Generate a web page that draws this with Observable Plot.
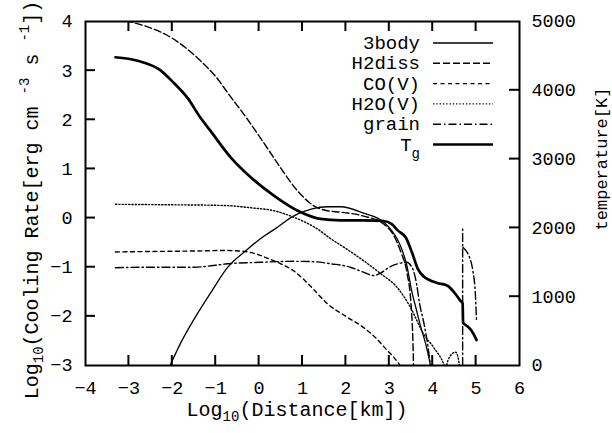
<!DOCTYPE html>
<html><head><meta charset="utf-8">
<script src="https://cdn.jsdelivr.net/npm/d3@7"></script>
<script src="https://cdn.jsdelivr.net/npm/@observablehq/plot@0.6"></script>
<style>html,body{margin:0;padding:0;background:#fff;} #chart{width:612px;height:433px;}</style>
</head><body><div id="chart"></div><script>
const FONT = "'Liberation Mono', 'DejaVu Sans Mono', monospace";

// ---- axes ----
const xTicks = [-4, -3, -2, -1, 0, 1, 2, 3, 4, 5, 6];
const xInnerTicks = [-3, -2, -1, 0, 1, 2, 3, 4, 5];
const yTicks = [-3, -2, -1, 0, 1, 2, 3, 4];
const yInnerTicks = [-2, -1, 0, 1, 2, 3];
const tempTicks = [0, 1000, 2000, 3000, 4000, 5000];
const tempInnerTicks = [1000, 2000, 3000, 4000];
const xMin = -4, xMax = 6, yMin = -3, yMax = 4, tempMax = 5000;

// ---- series (x = log10 distance [km], y = log10 cooling rate) ----
const body3X = [-2.05, -1.8, -1.5, -1.1, -0.73, -0.3, 0.03, 0.4, 0.79, 1.2, 1.57, 1.88, 2.41, 2.87, 3.05, 3.25, 3.4, 3.52, 3.62, 3.72, 3.85, 3.95];
const body3Y = [-3, -2.53, -2.06, -1.5, -1.01, -0.66, -0.42, -0.2, 0.04, 0.18, 0.23, 0.23, 0.1, -0.08, -0.25, -0.55, -0.95, -1.5, -1.85, -2.2, -2.6, -3];

const h2dissX = [-3.3, -3.0, -2.6, -2.04, -1.7, -1.35, -1.0, -0.7, -0.3, 0.07, 0.49, 0.88, 1.26, 1.57, 1.88, 2.41, 2.87, 3.1, 3.27, 3.41, 3.5, 3.54, 3.56];
const h2dissY = [4.05, 4.0, 3.9, 3.68, 3.47, 3.2, 2.88, 2.52, 2.05, 1.58, 1.03, 0.56, 0.25, 0.15, 0.12, 0.04, -0.12, -0.35, -0.7, -1.12, -1.75, -2.4, -3.05];

const coX = [-3.31, -2.5, -1.5, -0.8, -0.43, -0.1, 0.2, 0.5, 0.79, 1.2, 1.57, 2.0, 2.41, 2.7, 2.96, 3.1, 3.25];
const coY = [-0.69, -0.68, -0.67, -0.66, -0.67, -0.72, -0.82, -0.93, -1.07, -1.4, -1.74, -2.0, -2.23, -2.45, -2.7, -2.83, -3.0];

const h2oX = [-3.31, -2.0, -1.0, -0.66, -0.2, 0.34, 0.79, 1.34, 1.65, 2.0, 2.41, 2.8, 3.19, 3.49, 3.79, 4.02, 4.25, 4.29, 4.35, 4.45, 4.53, 4.58, 4.62];
const h2oY = [0.28, 0.27, 0.26, 0.25, 0.21, 0.15, 0.02, -0.22, -0.42, -0.62, -0.87, -1.13, -1.42, -1.82, -2.36, -2.63, -2.96, -3.05, -2.9, -2.76, -2.73, -2.82, -3.02];

const grainX = [-3.31, -2.5, -1.51, -1.0, -0.73, 0.03, 0.79, 1.3, 1.65, 2.1, 2.4, 2.64, 2.8, 3.0, 3.2, 3.4, 3.5, 3.55, 3.63, 3.7, 3.8, 3.88, 3.95];
const grainY = [-1.01, -1.0, -1.0, -0.96, -0.93, -0.9, -0.88, -0.89, -0.93, -1.0, -1.1, -1.17, -1.12, -1.0, -0.93, -0.9, -0.97, -1.05, -1.35, -1.75, -2.15, -2.55, -3.02];
const grainSpikeX = [4.69, 4.69];
const grainSpikeY = [-3, -0.2];
const grainTailX = [4.70, 4.78, 4.85, 4.93, 4.98, 5.01];
const grainTailY = [-0.6, -0.68, -0.8, -1.1, -1.5, -2.1];

// gas temperature [K] (right axis)
const tgX = [-3.31, -2.8, -2.27, -1.97, -1.65, -1.35, -1.12, -0.66, -0.2, 0.34, 0.95, 1.41, 1.88, 2.4, 2.87, 3.05, 3.2, 3.38, 3.53, 3.66, 3.8, 3.9, 4.1, 4.34, 4.5, 4.64, 4.69, 4.70, 4.8, 4.9, 5.01];
const tgT = [4480, 4430, 4290, 4110, 3890, 3600, 3410, 3030, 2740, 2470, 2230, 2130, 2110, 2110, 2100, 2060, 1960, 1860, 1630, 1400, 1290, 1250, 1200, 1160, 1060, 940, 900, 620, 570, 500, 370];

const legendNames = ["3body", "H2diss", "CO(V)", "H2O(V)", "grain", "Tg"];

// ---- layout ----
const W = 612, H = 433, mL = 85, mR = 93, mT = 21, mB = 68;
const TL = 10; // inward tick length in px

// ---- helpers ----
const toLeft = t => yMin + (yMax - yMin) * t / tempMax;
const rows = (xs, ys) => xs.map((x, i) => ({x, y: ys[i]}));
const styles = {
  "3body":  {stroke: "black", strokeWidth: 1.3},
  "H2diss": {stroke: "black", strokeWidth: 1.4, strokeDasharray: "7,3"},
  "CO(V)":  {stroke: "black", strokeWidth: 1.4, strokeDasharray: "4,3.5"},
  "H2O(V)": {stroke: "black", strokeWidth: 1.4, strokeDasharray: "1.3,2"},
  "grain":  {stroke: "black", strokeWidth: 1.4, strokeDasharray: "8,3,1.5,3"},
  "Tg":     {stroke: "black", strokeWidth: 2.7}
};
const lineOpts = (name, curve = "monotone-x") => ({x: "x", y: "y", curve, clip: true, ...styles[name]});

const plot = Plot.plot({
  width: W, height: H,
  marginLeft: mL, marginRight: mR, marginTop: mT, marginBottom: mB,
  x: {domain: [xMin, xMax]},
  y: {domain: [yMin, yMax]},
  style: {fontFamily: FONT, fontSize: "18px", background: "white", color: "black", overflow: "visible"},
  marks: [
    Plot.line(rows(coX, coY), lineOpts("CO(V)")),
    Plot.line(rows(h2oX, h2oY), lineOpts("H2O(V)")),
    Plot.line(rows(grainX, grainY), lineOpts("grain")),
    Plot.line(rows(grainSpikeX, grainSpikeY), lineOpts("grain", "linear")),
    Plot.line(rows(grainTailX, grainTailY), lineOpts("grain")),
    Plot.line(rows(h2dissX, h2dissY), lineOpts("H2diss")),
    Plot.line(rows(body3X, body3Y), lineOpts("3body")),
    Plot.line(rows(tgX, tgT.map(toLeft)), lineOpts("Tg")),
    Plot.frame({stroke: "black", strokeWidth: 2, fill: "none"}),
    // tick labels
    Plot.axisX(xTicks, {anchor: "bottom", tickSize: 0, tickPadding: 15, label: null, fontSize: 18.5}),
    Plot.axisY(yTicks, {anchor: "left", tickSize: 0, tickPadding: 13, label: null, fontSize: 18.5}),
    Plot.axisY(tempTicks.map(toLeft), {anchor: "right", tickSize: 0, tickPadding: 12, label: null, fontSize: 18.5,
      tickFormat: d => String(Math.round((d - yMin) / (yMax - yMin) * tempMax))})
  ]
});
document.getElementById("chart").appendChild(plot);

const svg = d3.select(plot);

// ---- inward frame ticks (pixel positions from the same linear mapping as the plot scales) ----
const px = v => mL + (v - xMin) / (xMax - xMin) * (W - mL - mR);
const py = v => mT + (yMax - v) / (yMax - yMin) * (H - mT - mB);
const fB = H - mB, fT = mT, fL = mL, fR = W - mR;
const tk = svg.append("g");
const addTick = (x1, y1, x2, y2) => tk.append("line")
  .attr("x1", x1).attr("y1", y1).attr("x2", x2).attr("y2", y2)
  .attr("stroke", "black").attr("stroke-width", 2);
xInnerTicks.forEach(v => { addTick(px(v), fB, px(v), fB - TL); addTick(px(v), fT, px(v), fT + TL); });
yInnerTicks.forEach(v => addTick(fL, py(v), fL + TL, py(v)));
tempInnerTicks.forEach(t => addTick(fR, py(toLeft(t)), fR - TL, py(toLeft(t))));

// ---- axis titles and legend ----
function richText(sel, parts) {
  parts.forEach(p => {
    const t = sel.append("tspan").text(p.t);
    if (p.sub) t.attr("font-size", 14).attr("dy", p.dy);
    else if (p.dy) t.attr("dy", p.dy);
  });
}
const xt = svg.append("text").attr("x", 297).attr("y", 416).attr("text-anchor", "middle")
  .attr("font-family", FONT).attr("font-size", 20).attr("fill", "black");
richText(xt, [{t: "Log"}, {t: "10", sub: true, dy: 5}, {t: "(Distance[km])", dy: -5}]);

const yt = svg.append("text").attr("transform", "translate(38,200) rotate(-90)").attr("text-anchor", "middle")
  .attr("font-family", FONT).attr("font-size", 20).attr("fill", "black");
richText(yt, [{t: "Log"}, {t: "10", sub: true, dy: 5}, {t: "(Cooling Rate[erg cm ", dy: -5},
  {t: "-3", sub: true, dy: -9}, {t: " s ", dy: 9}, {t: "-1", sub: true, dy: -9}, {t: "])", dy: 9}]);

svg.append("text").attr("transform", "translate(607,159) rotate(-90)").attr("text-anchor", "middle")
  .attr("font-family", FONT).attr("font-size", 17).attr("fill", "black").text("temperature[K]");

const lg = svg.append("g").attr("font-family", FONT).attr("font-size", 19).attr("fill", "black");
legendNames.forEach((name, i) => {
  const cy = 43 + i * 20.3;
  const st = styles[name];
  lg.append("line").attr("x1", 433).attr("x2", 493).attr("y1", cy).attr("y2", cy)
    .attr("stroke", "black").attr("stroke-width", st.strokeWidth)
    .attr("stroke-dasharray", st.strokeDasharray || null);
  const t = lg.append("text").attr("x", 420).attr("y", cy + 6).attr("text-anchor", "end");
  if (name === "Tg") richText(t, [{t: "T"}, {t: "g", sub: true, dy: 7}]);
  else t.text(name);
});
</script></body></html>
